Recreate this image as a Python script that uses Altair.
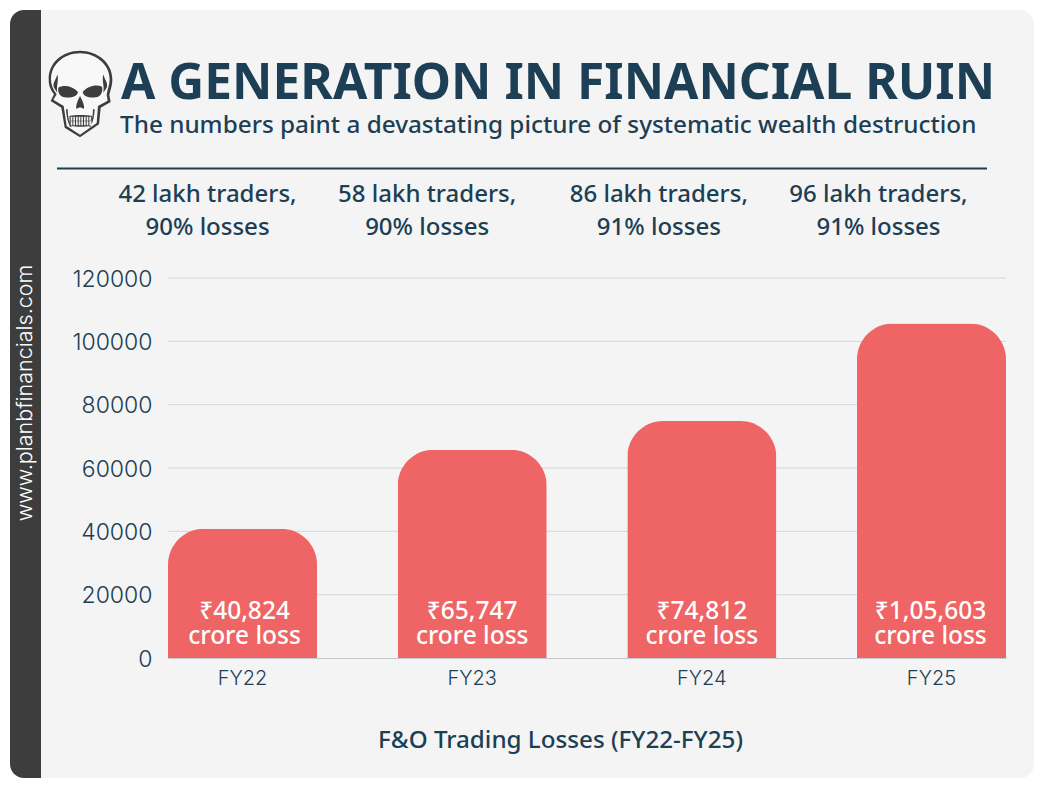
import re
import altair as alt
import pandas as pd

years = ["FY22", "FY23", "FY24", "FY25"]
losses = [40824, 65747, 74812, 105603]
bar_labels = ["₹40,824\ncrore loss", "₹65,747\ncrore loss", "₹74,812\ncrore loss", "₹1,05,603\ncrore loss"]
top_labels = ["42 lakh traders,\n90% losses", "58 lakh traders,\n90% losses",
              "86 lakh traders,\n91% losses", "96 lakh traders,\n91% losses"]
top_shift = [-35, -45, -43, -53]
bar_shift = [2, 0, 0, -1]
y_ticks = [0, 20000, 40000, 60000, 80000, 100000, 120000]

TITLE = "A GENERATION IN FINANCIAL RUIN"
SUBTITLE = "The numbers paint a devastating picture of systematic wealth destruction"
SIDE = "www.planbfinancials.com"
XTITLE = "F&O Trading Losses (FY22-FY25)"

NAVY = "#1c3f55"
DARK = "#3d3d3d"
CARD = "#f4f4f4"
RED = "#ef6464"
GRID = "#d4d6da"
LEFT, TOP = 168, 278   # page position of the plot area
PW, PH = 838, 380
BODY = "Noto Sans"
NUM = "Inter"

df = pd.DataFrame({"fy": years, "loss": losses, "label": bar_labels, "top": top_labels})
grid_df = pd.DataFrame({"tick": y_ticks[1:]})
one = alt.Data(values=[{"a": 1}])
px = lambda v: alt.value(v - LEFT)
py = lambda v: alt.value(v - TOP)


def deco_rect(x0, x1, y0, y1, color, **kw):
    return alt.Chart(one).mark_rect(color=color, **kw).encode(
        x=px(x0), x2=px(x1), y=py(y0), y2=py(y1))


def deco_text(text, x, y, **kw):
    return alt.Chart(one).mark_text(text=text, **kw).encode(x=px(x), y=py(y))


def skull_part(path, color):
    nums = iter(re.findall(r"[A-Za-z]|-?\d+", path))
    out, is_x = [], True
    for t in nums:
        if t.isalpha():
            out.append(t)
            is_x = True
        else:
            c = 108 if is_x else 144
            out.append(f"{(float(t) - c) / 132:.3f}")
            is_x = not is_x
    return alt.Chart(one).mark_point(shape=" ".join(out), size=88 ** 2, filled=True,
                                     fill=color, opacity=1, strokeWidth=0).encode(x=px(80), y=py(94))


SK_OUT = "M108 14 C160 14 205 50 205 100 C205 122 198 135 196 148 L200 168 L170 185 L165 235 L108 274 L62 245 L52 185 L20 165 L30 145 C18 130 13 115 14 98 C14 50 55 14 108 14 Z"
SK_IN = "M108 22 C155 22 197 55 197 100 C197 118 190 130 188 146 L191 164 L162 180 L158 231 L108 266 L68 240 L59 180 L28 161 L38 145 C26 130 21 115 21 100 C21 55 60 22 108 22 Z"
SK_DARK = ("M40 85 C35 105 25 110 30 125 L40 140 C36 120 45 105 40 85 Z "
           "M178 85 C183 105 193 110 188 125 L178 140 C182 120 173 105 178 85 Z "
           "M43 125 C60 116 85 120 102 138 C100 152 80 157 62 154 C48 152 40 138 43 125 Z "
           "M174 122 C158 114 130 120 116 138 C118 152 138 157 155 154 C170 152 178 138 174 122 Z "
           "M108 150 C100 165 95 180 97 188 L108 184 L120 188 C122 180 116 165 108 150 Z "
           "M76 210 C95 206 125 206 144 210 L142 238 C125 244 95 244 78 238 Z "
           "M66 190 L71 190 C71 210 75 228 83 244 L78 242 C70 226 67 208 66 190 Z "
           "M152 190 L147 190 C147 210 143 228 135 244 L140 242 C148 226 151 208 152 190 Z")
SK_TEETH = " ".join(f"M{x} 212 L{x + 5} 212 L{x + 5} 224 L{x} 224 Z M{x} 226 L{x + 5} 226 L{x + 5} 238 L{x} 238 Z"
                    for x in range(80, 140, 8))

background = [
    deco_rect(10, 1034, 10, 778, CARD, cornerRadius=14),
    deco_rect(10, 41, 10, 778, DARK, cornerRadiusTopLeft=14, cornerRadiusBottomLeft=14),
    alt.Chart(one).mark_rule(color=NAVY, strokeWidth=2).encode(
        x=px(57), x2=px(987), y=py(168.5)),
]

y_scale = alt.Scale(domain=[0, 120000], nice=False)
y_axis = alt.Axis(title=None, values=y_ticks, format="d", grid=False, zindex=1,
                  domain=False, ticks=False, labelFont=NUM, labelFontSize=23, labelFontWeight=300,
                  labelColor=NAVY, labelPadding=16, labelOffset=1)

grid = alt.Chart(grid_df).mark_rule(color=GRID, strokeWidth=1).encode(
    y=alt.Y("tick:Q", scale=y_scale, axis=y_axis), x=alt.value(0), x2=alt.value(PW))

x_enc = alt.X("fy:N", sort=years,
              scale=alt.Scale(paddingInner=0.351, paddingOuter=0),
              axis=alt.Axis(title=XTITLE, titleFont=BODY, titleFontSize=24.2, titleFontWeight=500,
                            titleColor=NAVY, titleX=392, titleY=82, titleBaseline="middle",
                            titleAnchor="middle", titleAlign="center", zindex=1,
                            labelFont=NUM, labelFontSize=20, labelFontWeight=300, labelColor=NAVY,
                            labelPadding=10, labelAngle=0, ticks=False,
                            domainColor="#c3c8d0", domainWidth=1))
y_enc = alt.Y("loss:Q", scale=y_scale, axis=y_axis)

bars = alt.Chart(df).mark_bar(color=RED, cornerRadiusTopLeft=36, cornerRadiusTopRight=36).encode(
    x=x_enc, y=y_enc)

bar_text = [
    alt.Chart(df[df.fy == fy]).mark_text(color="#ffffff", font=BODY, fontSize=24.5, fontWeight=500,
                                         lineBreak="\n", lineHeight=25, baseline="middle",
                                         dx=dx).encode(
        x=alt.X("fy:N", sort=years), y=py(612), text="label:N")
    for fy, dx in zip(years, bar_shift)
]

top_text = [
    alt.Chart(df[df.fy == fy]).mark_text(color=NAVY, font=BODY, fontSize=24, fontWeight=500,
                                         lineBreak="\n", lineHeight=33, baseline="middle",
                                         dx=dx).encode(
        x=alt.X("fy:N", sort=years), y=py(195), text="top:N")
    for fy, dx in zip(years, top_shift)
]

headings = [
    deco_text(TITLE, 121, 84, font=BODY, fontSize=49.7, fontWeight=700, color=NAVY,
              align="left", baseline="middle"),
    deco_text(SUBTITLE, 120, 126, font=BODY, fontSize=24.3, fontWeight=500, color=NAVY,
              align="left", baseline="middle"),
    deco_text(SIDE, 26, 393, font=NUM, fontSize=21.5, fontWeight=300, color="#ffffff", angle=270,
              align="center", baseline="middle"),
]

skull = [skull_part(SK_OUT, DARK), skull_part(SK_IN, "#f8f8f8"),
         skull_part(SK_DARK, DARK), skull_part(SK_TEETH, "#f0f0f0")]

chart = alt.layer(*background, grid, bars, *bar_text, *top_text, *headings, *skull).resolve_scale(
    x="shared", y="shared"
).properties(
    width=PW, height=PH,
    padding={"left": LEFT - 8, "top": TOP - 8, "right": 1036 - LEFT - PW, "bottom": 780 - TOP - PH},
    autosize=alt.AutoSizeParams(type="none"),
    background="#ffffff",
).configure_view(stroke=None)

chart.save("out.html", embed_options={"renderer": "svg", "actions": False})
